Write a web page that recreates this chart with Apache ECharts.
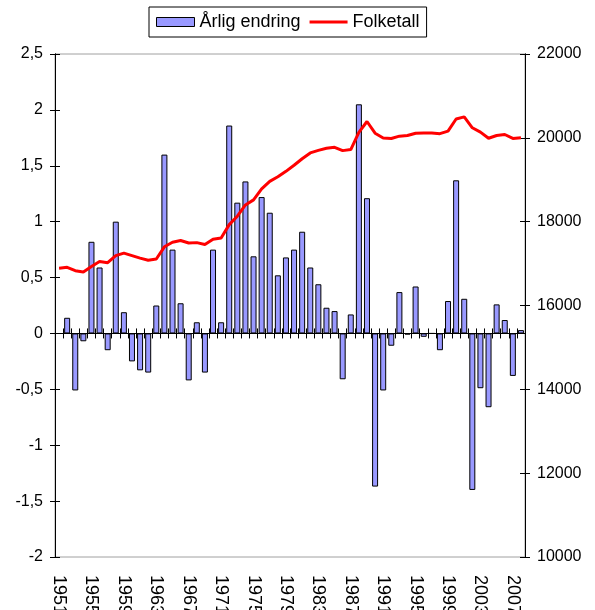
<!DOCTYPE html>
<html>
<head>
<meta charset="utf-8">
<script src="https://cdn.jsdelivr.net/npm/echarts@6/dist/echarts.min.js"></script>
<style>
  html, body { margin: 0; padding: 0; background: #fff; }
  #chart { width: 595px; height: 610px; }
</style>
</head>
<body>
<div id="chart"></div>
<script>
// årstall 1951-2008
const years = [];
for (let y = 1951; y <= 2008; y++) years.push(String(y));

// årlig endring i prosent (1951 mangler)
const endring = [
  null, 0.14, -0.51, -0.07, 0.82, 0.59, -0.15, 1.00, 0.19, -0.25,
  -0.33, -0.35, 0.25, 1.60, 0.75, 0.27, -0.42, 0.10, -0.35, 0.75,
  0.10, 1.86, 1.17, 1.36, 0.69, 1.22, 1.08, 0.52, 0.68, 0.75,
  0.91, 0.59, 0.44, 0.23, 0.20, -0.41, 0.17, 2.05, 1.21, -1.37,
  -0.51, -0.11, 0.37, -0.01, 0.42, -0.03, 0.00, -0.15, 0.29, 1.37,
  0.31, -1.40, -0.49, -0.66, 0.26, 0.12, -0.38, 0.03
];

// folketall
const folketall = [
  16890, 16910, 16830, 16800, 16930, 17050, 17020, 17190, 17250, 17190,
  17130, 17080, 17110, 17400, 17510, 17550, 17490, 17500, 17455, 17580,
  17610, 17930, 18130, 18400, 18520, 18780, 18960, 19070, 19200, 19345,
  19500, 19640, 19700, 19750, 19775, 19695, 19720, 20130, 20390, 20110,
  19995, 19985, 20040, 20055, 20110, 20115, 20115, 20100, 20160, 20450,
  20500, 20240, 20135, 19990, 20055, 20080, 19985, 20000
];

const font = 'Arial, "Liberation Sans", sans-serif';
const chart = echarts.init(document.getElementById('chart'));

// akse-hjelpere (ticks på begge sider av aksen)
const leftRange = { min: -2, max: 2.5, interval: 0.5 };
const rightRange = { min: 10000, max: 22000, interval: 2000 };

function yAx(pos, range, inside, labels) {
  return {
    type: 'value',
    position: pos,
    min: range.min,
    max: range.max,
    interval: range.interval,
    splitLine: { show: false },
    axisLine: { show: true, onZero: false, lineStyle: { color: '#000', width: 1 } },
    axisTick: { show: true, inside: inside, length: 5, lineStyle: { color: '#000' } },
    axisLabel: {
      show: labels,
      color: '#000',
      fontSize: 16,
      fontFamily: font,
      margin: 12,
      formatter: v => pos === 'left' ? String(v).replace('.', ',') : String(v)
    }
  };
}

function zeroAx(inside) {
  return {
    type: 'category',
    position: 'bottom',
    data: years,
    axisLine: { show: true, onZero: true, onZeroAxisIndex: 0, lineStyle: { color: '#000', width: 1 } },
    axisTick: { show: true, inside: inside, length: 5, interval: 0, lineStyle: { color: '#000' } },
    axisLabel: { show: false },
    splitLine: { show: false }
  };
}

chart.setOption({
  animation: false,
  backgroundColor: '#fff',
  textStyle: { fontFamily: font },
  legend: {
    left: 149,
    top: 7,
    padding: [6, 7],
    itemGap: 9,
    itemWidth: 38,
    itemHeight: 9,
    borderColor: '#000',
    borderWidth: 1,
    itemStyle: { borderWidth: 1 },
    textStyle: { color: '#000', fontSize: 18, fontFamily: font },
    data: [
      { name: 'Årlig endring', icon: 'rect' },
      { name: 'Folketall', icon: 'path://M0,0L40,0L40,3L0,3Z', itemStyle: { borderWidth: 0 } }
    ]
  },
  grid: {
    left: 55,
    right: 70,
    top: 54,
    bottom: 53,
    show: true,
    borderColor: '#a0a0a0',
    borderWidth: 1,
    containLabel: false,
    outerBoundsMode: 'none'
  },
  xAxis: [
    {
      type: 'category',
      position: 'bottom',
      data: years,
      axisLine: { show: false, onZero: false },
      axisTick: { show: false },
      splitLine: { show: false },
      axisLabel: {
        interval: 3,
        rotate: -90,
        margin: 18,
        color: '#000',
        fontSize: 18,
        fontFamily: font
      }
    },
    zeroAx(false),
    zeroAx(true)
  ],
  yAxis: [
    yAx('left', leftRange, false, true),
    yAx('right', rightRange, false, true),
    yAx('left', leftRange, true, false),
    yAx('right', rightRange, true, false)
  ],
  series: [
    {
      name: 'Årlig endring',
      type: 'bar',
      xAxisIndex: 0,
      yAxisIndex: 0,
      barWidth: 6,
      data: endring,
      itemStyle: { color: '#9999ff', borderColor: '#000', borderWidth: 1 }
    },
    {
      name: 'Folketall',
      type: 'line',
      xAxisIndex: 0,
      yAxisIndex: 1,
      symbol: 'none',
      data: folketall,
      itemStyle: { color: '#ff0000' },
      lineStyle: { color: '#ff0000', width: 3 }
    }
  ]
});
</script>
</body>
</html>
